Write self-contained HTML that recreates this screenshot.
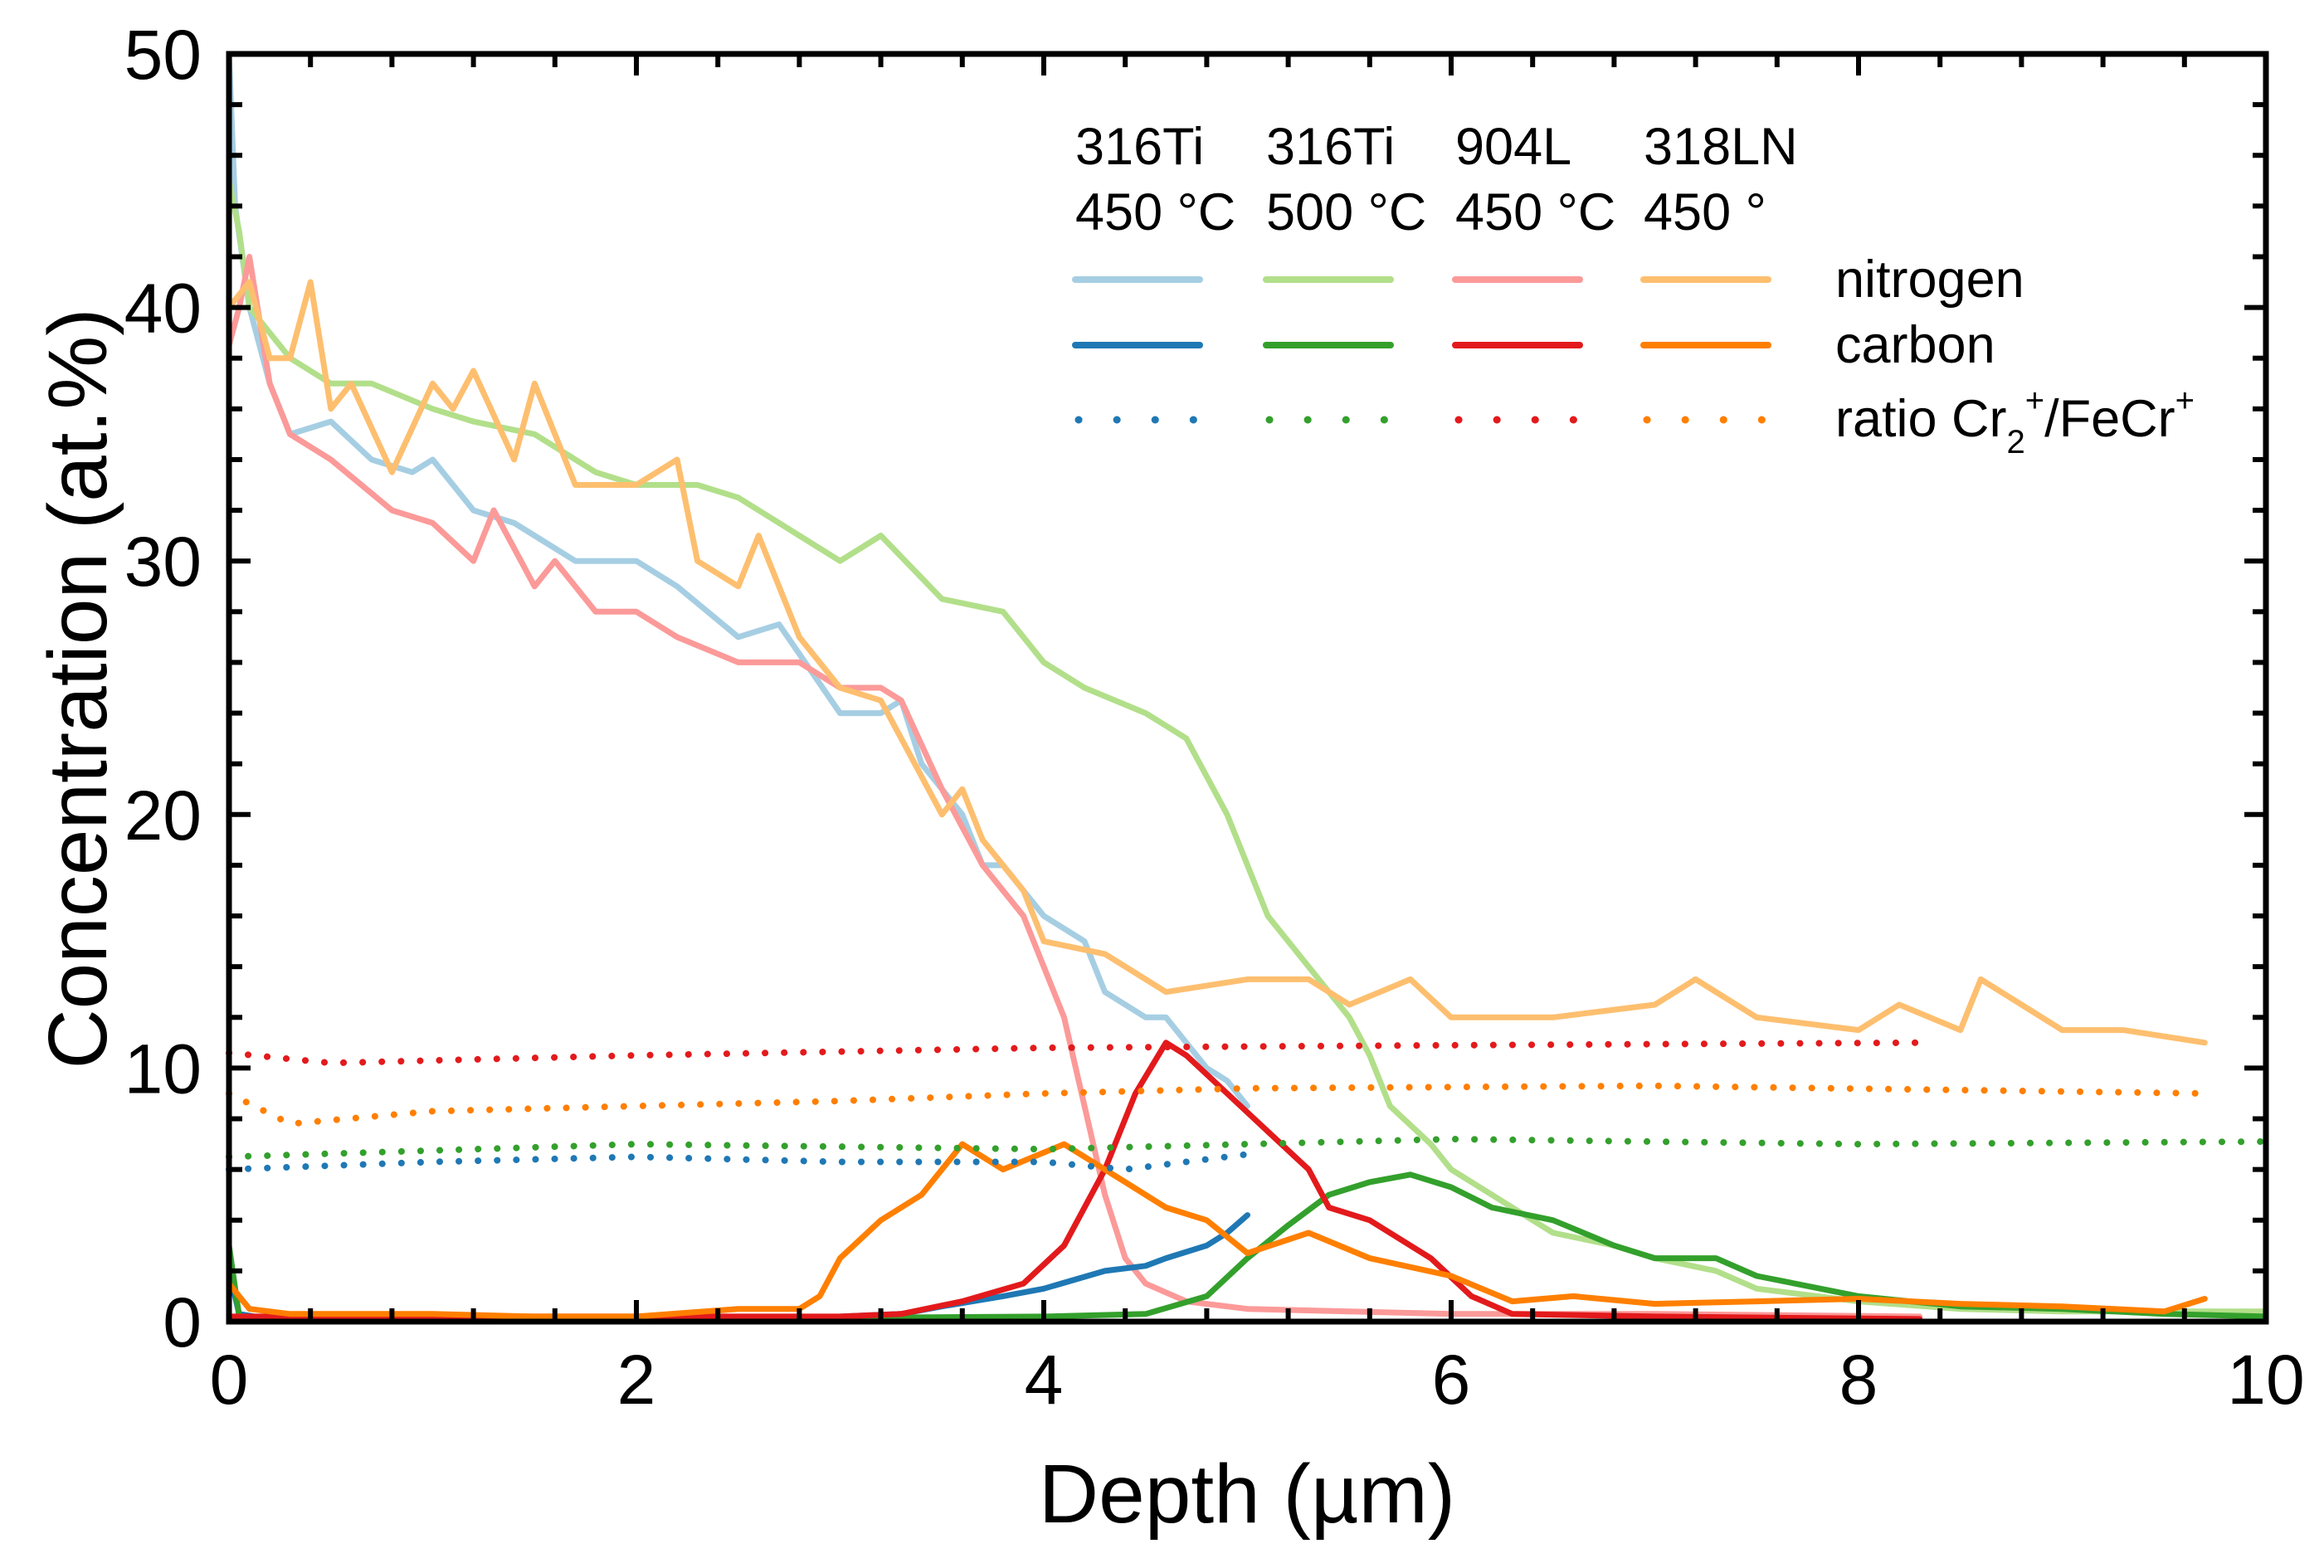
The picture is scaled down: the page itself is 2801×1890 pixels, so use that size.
<!DOCTYPE html>
<html><head><meta charset="utf-8"><style>
html,body{margin:0;padding:0;background:#fff;}
svg{display:block;font-family:"Liberation Sans",Arial,sans-serif;}
</style></head><body>
<svg id="chart" width="2801" height="1890" viewBox="0 0 2801 1890">
<g id="series"></g>
<g id="axes"></g>
<g id="legend"></g>
</svg>
<script>
// ---- data ----
const xTicks = [0,2,4,6,8,10];
const yTicks = [0,10,20,30,40,50];
// nitrogen
const n316Ti450x = [0,0.03,0.1,0.2,0.3,0.5,0.7,0.9,1.0,1.2,1.4,1.5,1.7,2.0,2.2,2.5,2.7,3.0,3.2,3.3,3.4,3.5,3.6,3.7,3.8,4.0,4.2,4.3,4.5,4.6,4.7,4.8,4.9,5.0];
const n316Ti450y = [50,44,40,37,35,35.5,34,33.5,34,32,31.5,31,30,30,29,27,27.5,24,24,24.5,22,21,20,18,18,16,15,13,12,12,11,10,9.5,8.5];
const n316Ti500x = [0,0.05,0.1,0.2,0.3,0.5,0.7,1.0,1.2,1.5,1.8,2.0,2.3,2.5,2.8,3.0,3.2,3.5,3.8,4.0,4.2,4.5,4.7,4.9,5.0,5.1,5.3,5.5,5.6,5.7,5.9,6.0,6.3,6.5,6.8,7.0,7.3,7.5,8.0,8.5,9.0,9.5,10.0];
const n316Ti500y = [45,43,40,39,38,37,37,36,35.5,35,33.5,33,33,32.5,31,30,31,28.5,28,26,25,24,23,20,18,16,14,12,10.5,8.5,7,6,4.5,3.5,3,2.5,2,1.3,0.8,0.5,0.4,0.4,0.4];
const n904Lx = [0,0.05,0.1,0.2,0.3,0.5,0.8,1.0,1.2,1.3,1.5,1.6,1.8,2.0,2.2,2.5,2.8,3.0,3.2,3.3,3.5,3.7,3.9,4.0,4.1,4.2,4.3,4.4,4.5,4.7,5.0,5.5,6.0,7.0,8.3];
const n904Ly = [38.5,40,42,37,35,34,32,31.5,30,32,29,30,28,28,27,26,26,25,25,24.5,21,18,16,14,12,8.5,5,2.5,1.5,0.8,0.5,0.4,0.3,0.3,0.2];
const n318LNx = [0,0.1,0.2,0.3,0.4,0.5,0.6,0.8,1.0,1.1,1.2,1.4,1.5,1.7,2.0,2.2,2.3,2.5,2.6,2.8,3.0,3.2,3.3,3.5,3.6,3.7,3.9,4.0,4.3,4.6,5.0,5.3,5.5,5.8,6.0,6.5,7.0,7.2,7.5,8.0,8.2,8.5,8.6,9.0,9.3,9.7];
const n318LNy = [40,41,38,38,41,36,37,33.5,37,36,37.5,34,37,33,33,34,30,29,31,27,25,24.5,23,20,21,19,17,15,14.5,13,13.5,13.5,12.5,13.5,12,12,12.5,13.5,12,11.5,12.5,11.5,13.5,11.5,11.5,11];
// carbon
const c316Ti450x = [0,0.05,0.2,1,2,3,3.3,3.5,3.8,4.0,4.3,4.5,4.6,4.8,4.9,5.0];
const c316Ti450y = [2,0.3,0.1,0.1,0.1,0.2,0.3,0.6,1.0,1.3,2.0,2.2,2.5,3.0,3.5,4.2];
const c316Ti500x = [0,0.05,0.5,2,4,4.5,4.8,5.0,5.2,5.4,5.6,5.8,6.0,6.2,6.5,6.8,7.0,7.3,7.5,8.0,8.5,9.0,9.5,10.0];
const c316Ti500y = [3,0.2,0.1,0.1,0.2,0.3,1.0,2.5,3.8,5.0,5.5,5.8,5.3,4.5,4.0,3.0,2.5,2.5,1.8,1.0,0.6,0.5,0.3,0.2];
const c904Lx = [0,1,2,3,3.3,3.6,3.9,4.1,4.3,4.45,4.6,4.7,4.9,5.1,5.3,5.4,5.6,5.9,6.1,6.3,7,8.3];
const c904Ly = [0.2,0.2,0.2,0.2,0.3,0.8,1.5,3,6,9,11,10.5,9,7.5,6,4.5,4,2.5,1,0.3,0.2,0.1];
const c318LNx = [0,0.1,0.3,0.6,1.0,1.5,2.0,2.5,2.8,2.9,3.0,3.2,3.4,3.6,3.8,4.1,4.4,4.6,4.8,5.0,5.3,5.6,6.0,6.3,6.6,7.0,7.5,8.0,8.5,9.0,9.5,9.7];
const c318LNy = [1.5,0.5,0.3,0.3,0.3,0.2,0.2,0.5,0.5,1.0,2.5,4,5,7,6,7,5.5,4.5,4,2.7,3.5,2.5,1.8,0.8,1.0,0.7,0.8,0.9,0.7,0.6,0.4,0.9];
// ratio Cr2+/FeCr+
const r316Ti450x = [0,1,2,3,4,4.4,5];
const r316Ti450y = [6,6.3,6.5,6.3,6.3,6.0,6.6];
const r316Ti500x = [0,2,4,6,8,10];
const r316Ti500y = [6.5,7,6.8,7.2,7,7.1];
const r904Lx = [0,0.5,2,4,6,8.3];
const r904Ly = [10.6,10.2,10.5,10.8,10.9,11];
const r318LNx = [0,0.3,1,2,3,4,5,7,9.7];
const r318LNy = [9,7.8,8.3,8.5,8.7,9,9.2,9.3,9];

// ---- layout ----
const L=276,R=2731,T=65,B=1593;
const sx=v=>L+(R-L)*v/10;
const sy=v=>B-(B-T)*v/50;
const NS='http://www.w3.org/2000/svg';
function mk(tag,attrs,parent){const e=document.createElementNS(NS,tag);for(const k in attrs)e.setAttribute(k,attrs[k]);parent.appendChild(e);return e;}
const gS=document.getElementById('series'),gA=document.getElementById('axes'),gL=document.getElementById('legend');

const series=[
 [n316Ti450x,n316Ti450y,'#a6cee3',7,null,'nitrogen-316ti-450'],
 [n316Ti500x,n316Ti500y,'#b2df8a',7,null,'nitrogen-316ti-500'],
 [n904Lx,n904Ly,'#fb9a99',7,null,'nitrogen-904l-450'],
 [n318LNx,n318LNy,'#fdbf6f',7,null,'nitrogen-318ln-450'],
 [c316Ti450x,c316Ti450y,'#1f78b4',7,null,'carbon-316ti-450'],
 [c316Ti500x,c316Ti500y,'#33a02c',7,null,'carbon-316ti-500'],
 [c904Lx,c904Ly,'#e31a1c',7,null,'carbon-904l-450'],
 [c318LNx,c318LNy,'#ff7f00',7,null,'carbon-318ln-450'],
 [r316Ti450x,r316Ti450y,'#1f78b4',8,'0.1 23','ratio-316ti-450'],
 [r316Ti500x,r316Ti500y,'#33a02c',8,'0.1 23','ratio-316ti-500'],
 [r904Lx,r904Ly,'#e31a1c',8,'0.1 23','ratio-904l-450'],
 [r318LNx,r318LNy,'#ff7f00',8,'0.1 23','ratio-318ln-450'],
];
series.forEach(s=>{
 const d=s[0].map((x,i)=>(i?'L':'M')+sx(x).toFixed(1)+','+sy(s[1][i]).toFixed(1)).join('');
 const a={d:d,fill:'none',stroke:s[2],'stroke-width':s[3],'stroke-linejoin':'round','stroke-linecap':'round'};
 if(s[4])a['stroke-dasharray']=s[4];
 const p=mk('path',a,gS);
 
 
});

// axes frame
const fr=mk('rect',{x:L,y:T,width:R-L,height:B-T,fill:'none',stroke:'#000','stroke-width':7},gA);


// ticks
for(let v=0;v<=10.001;v+=0.4){const x=sx(v);const maj=Math.abs(v/2-Math.round(v/2))<0.01;const len=maj?26:16;
 mk('line',{x1:x,y1:B,x2:x,y2:B-len,stroke:'#000','stroke-width':6},gA);
 mk('line',{x1:x,y1:T,x2:x,y2:T+len,stroke:'#000','stroke-width':6},gA);}
for(let v=0;v<=50.001;v+=2){const y=sy(v);const maj=v%10===0;const len=maj?26:16;
 mk('line',{x1:L,y1:y,x2:L+len,y2:y,stroke:'#000','stroke-width':6},gA);
 mk('line',{x1:R,y1:y,x2:R-len,y2:y,stroke:'#000','stroke-width':6},gA);}
xTicks.forEach(v=>{const t=mk('text',{x:sx(v),y:1692,'font-size':84,'text-anchor':'middle'},gA);t.textContent=v;
 
 });
yTicks.forEach(v=>{const t=mk('text',{x:243,y:sy(v)+30,'font-size':84,'text-anchor':'end'},gA);t.textContent=v;
 
 });
const xt=mk('text',{x:1503,y:1835,'font-size':100,'text-anchor':'middle'},gA);xt.textContent='Depth (µm)';


const yt=mk('text',{x:0,y:0,'font-size':100,'text-anchor':'middle',transform:'translate(128,830) rotate(-90)'},gA);yt.textContent='Concentration (at.%)';



// legend
const cols=[1296,1526,1754,1981];
const names=['316Ti','316Ti','904L','318LN'];
const temps=['450 °C','500 °C','450 °C','450 °'];
const lc=[['#a6cee3','#1f78b4'],['#b2df8a','#33a02c'],['#fb9a99','#e31a1c'],['#fdbf6f','#ff7f00']];
cols.forEach((x,i)=>{
 const a=mk('text',{x:x,y:198,'font-size':63},gL);a.textContent=names[i];
 
 
 const b=mk('text',{x:x,y:277,'font-size':63},gL);b.textContent=temps[i];
 
 
 const l1=mk('line',{x1:x,y1:337,x2:x+150,y2:337,stroke:lc[i][0],'stroke-width':8,'stroke-linecap':'round'},gL);
 
 
 const l2=mk('line',{x1:x,y1:416,x2:x+150,y2:416,stroke:lc[i][1],'stroke-width':8,'stroke-linecap':'round'},gL);
 
 
 const l3=mk('line',{x1:x+4,y1:506,x2:x+148,y2:506,stroke:lc[i][1],'stroke-width':9,'stroke-linecap':'round','stroke-dasharray':'0.1 46'},gL);
 
 
});
const t1=mk('text',{x:2212,y:358,'font-size':63},gL);t1.textContent='nitrogen';


const t2=mk('text',{x:2212,y:437,'font-size':63},gL);t2.textContent='carbon';


const t3=mk('text',{x:2212,y:526,'font-size':63},gL);
t3.innerHTML='ratio Cr<tspan font-size="40" dy="20">2</tspan><tspan font-size="40" dy="-50">+</tspan><tspan dy="30">/FeCr</tspan><tspan font-size="40" dy="-30">+</tspan>';


</script>
</body></html>
